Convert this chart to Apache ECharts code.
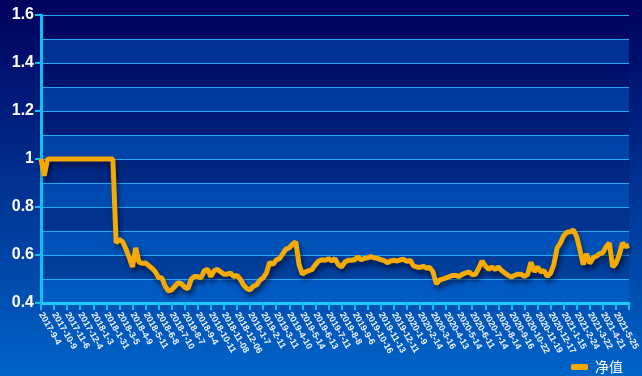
<!DOCTYPE html>
<html>
<head>
<meta charset="utf-8">
<script src="https://cdn.jsdelivr.net/npm/echarts@6/dist/echarts.min.js"></script>
<style>
html, body { margin: 0; padding: 0; }
#main { width: 642px; height: 376px; }
</style>
</head>
<body>
<div id="main"></div>
<script>
// dates shown on the x axis, one every 4 points
var labelDates = ['2017-9-4','2017-10-9','2017-11-6','2017-12-4','2018-1-3','2018-1-31','2018-3-5','2018-4-9',
    '2018-5-11','2018-6-8','2018-7-10','2018-8-7','2018-9-4','2018-10-11','2018-11-08','2018-12-06',
    '2019-1-7','2019-2-11','2019-3-11','2019-4-10','2019-5-14','2019-6-13','2019-7-11','2019-8-8',
    '2019-9-6','2019-10-16','2019-11-13','2019-12-11','2020-1-9','2020-2-14','2020-3-16','2020-4-13',
    '2020-5-14','2020-6-11','2020-7-14','2020-8-14','2020-9-16','2020-10-22','2020-11-19','2020-12-17',
    '2021-1-15','2021-2-24','2021-3-22','2021-4-21','2021-5-25'];
var step = 4;

// 净值
var netValue = [
    1.0, 0.93, 1.0, 1.0, 1.0, 1.0, 1.0, 1.0, 1.0, 1.0,
    1.0, 1.0, 1.0, 1.0, 1.0, 1.0, 1.0, 1.0, 1.0, 1.0,
    1.0, 1.0, 1.0, 0.65, 0.665, 0.655, 0.625, 0.59, 0.55, 0.63,
    0.57, 0.565, 0.567, 0.555, 0.545, 0.53, 0.505, 0.505, 0.47, 0.45,
    0.455, 0.47, 0.485, 0.48, 0.465, 0.46, 0.50, 0.51, 0.51, 0.505,
    0.535, 0.54, 0.51, 0.535, 0.54, 0.53, 0.52, 0.52, 0.525, 0.51,
    0.515, 0.50, 0.475, 0.46, 0.455, 0.47, 0.475, 0.495, 0.505, 0.525,
    0.57, 0.56, 0.58, 0.585, 0.605, 0.625, 0.63, 0.645, 0.655, 0.56,
    0.52, 0.53, 0.535, 0.54, 0.56, 0.575, 0.58, 0.578, 0.585, 0.575,
    0.585, 0.56, 0.55, 0.57, 0.578, 0.578, 0.58, 0.592, 0.58, 0.586,
    0.588, 0.593, 0.588, 0.586, 0.58, 0.577, 0.568, 0.575, 0.578, 0.575,
    0.58, 0.582, 0.573, 0.578, 0.555, 0.55, 0.548, 0.553, 0.545, 0.548,
    0.53, 0.48, 0.495, 0.50, 0.505, 0.51, 0.515, 0.515, 0.51, 0.52,
    0.525, 0.53, 0.518, 0.52, 0.545, 0.575, 0.555, 0.54, 0.55, 0.54,
    0.55, 0.535, 0.525, 0.515, 0.508, 0.515, 0.52, 0.52, 0.51, 0.52,
    0.57, 0.53, 0.55, 0.53, 0.535, 0.51, 0.525, 0.56, 0.63, 0.65,
    0.68, 0.695, 0.697, 0.704, 0.676, 0.62, 0.56, 0.605, 0.565, 0.588,
    0.595, 0.605, 0.61, 0.635, 0.65, 0.55, 0.565, 0.60, 0.65, 0.635,
    0.64
];

var categories = [];
for (var i = 0; i < netValue.length; i++) {
    var k = i / step;
    categories.push(i % step === 0 && k < labelDates.length ? labelDates[k] : '');
}

var option = {
    backgroundColor: new echarts.graphic.LinearGradient(0, 0, 0, 1, [
        {offset: 0, color: '#00005c'},
        {offset: 1, color: '#0064c8'}
    ]),
    grid: {
        left: 41,
        right: 13,
        top: 15,
        bottom: 73
    },
    legend: {
        right: 19,
        top: 360,
        padding: 0,
        icon: 'roundRect',
        itemWidth: 17,
        itemHeight: 6,
        itemGap: 10,
        textStyle: {
            color: '#ffffff',
            fontSize: 14,
            padding: [0, 0, 0, 2],
            fontFamily: 'Noto Sans CJK SC'
        },
        data: ['净值']
    },
    xAxis: {
        type: 'category',
        boundaryGap: false,
        data: categories,
        axisLine: {
            lineStyle: {color: '#22c8f8', width: 3}
        },
        axisTick: {
            interval: step - 1,
            length: 7,
            lineStyle: {color: '#00c0f8', width: 2}
        },
        axisLabel: {
            interval: step - 1,
            rotate: -60,
            margin: 10,
            color: '#eef3ff',
            fontSize: 9,
            fontWeight: 'bold',
            fontFamily: 'Arial'
        },
        splitLine: {show: false}
    },
    yAxis: [
        {
            type: 'value',
            min: 0.4,
            max: 1.6,
            interval: 0.2,
            axisLine: {
                show: true,
                lineStyle: {color: '#10c0f0', width: 3}
            },
            axisTick: {
                show: true,
                length: 6,
                lineStyle: {color: '#10c0f0', width: 2}
            },
            axisLabel: {
                color: '#ffffff',
                fontSize: 16,
                fontWeight: 'bold',
                fontFamily: 'Arial',
                margin: 7
            },
            splitLine: {show: false}
        },
        {
            type: 'value',
            position: 'left',
            min: 0.4,
            max: 1.6,
            interval: 0.1,
            axisLine: {show: false},
            axisTick: {show: false},
            axisLabel: {show: false},
            splitLine: {
                show: true,
                lineStyle: {color: '#25a8f0', width: 1}
            },
            splitArea: {
                show: true,
                areaStyle: {
                    color: ['rgba(0,110,220,0.38)', 'rgba(0,0,60,0.12)']
                }
            }
        }
    ],
    series: [
        {
            name: '净值',
            type: 'line',
            data: netValue,
            yAxisIndex: 0,
            showSymbol: false,
            symbol: 'none',
            color: '#f5aa00',
            lineStyle: {
                color: '#f5aa00',
                width: 5,
                shadowColor: 'rgba(0,0,30,0.6)',
                shadowBlur: 5,
                shadowOffsetX: 2,
                shadowOffsetY: 4
            },
            z: 5
        }
    ]
};

var myChart = echarts.init(document.getElementById('main'));
myChart.setOption(option);
</script>
</body>
</html>
